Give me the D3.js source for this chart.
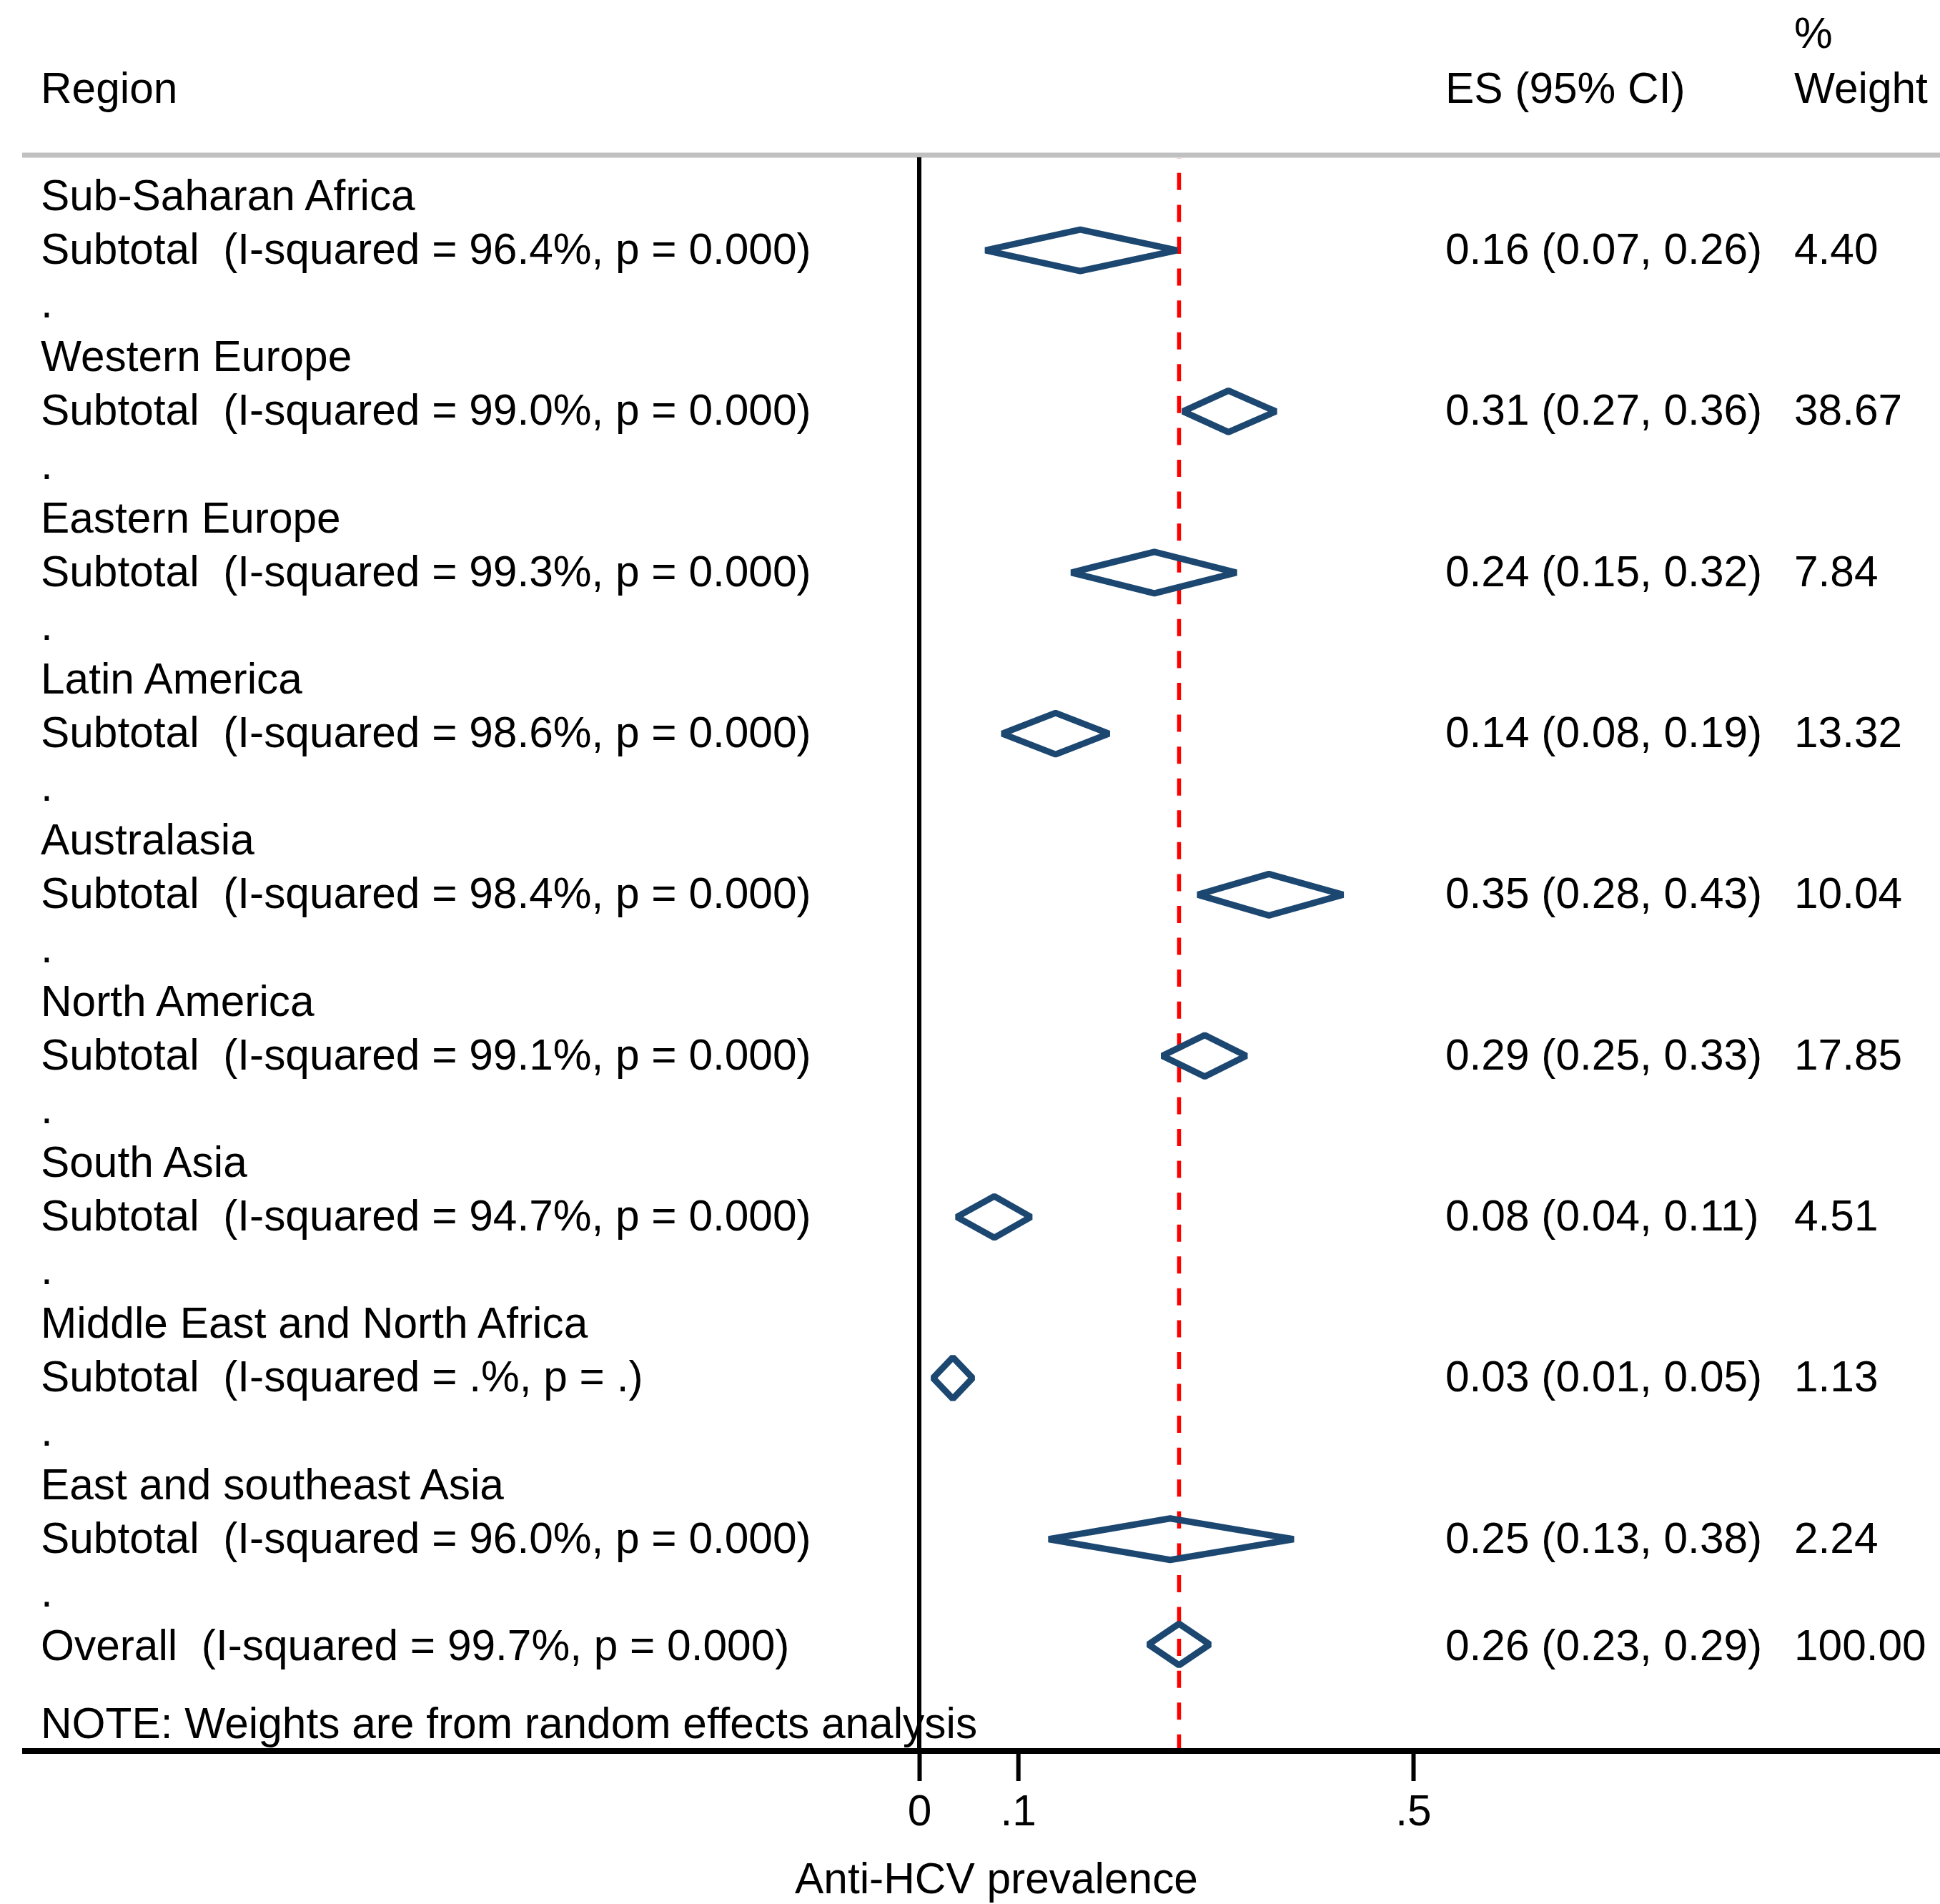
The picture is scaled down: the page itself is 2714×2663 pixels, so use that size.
<!DOCTYPE html>
<html lang="en">
<head>
<meta charset="utf-8">
<title>Anti-HCV prevalence forest plot</title>
<script src="https://cdn.jsdelivr.net/npm/d3@7"></script>
<style>
  html, body { margin: 0; padding: 0; background: #fff; }
  svg text { font-family: "Liberation Sans", Arial, sans-serif; font-size: 60.4px; fill: #000; }
</style>
</head>
<body>
<script>
// data (diamond positions estimated, labels printed to 2 dp)
let regions = ["Sub-Saharan Africa", "Western Europe", "Eastern Europe", "Latin America",
               "Australasia", "North America", "South Asia", "Middle East and North Africa",
               "East and southeast Asia"];
let iSquared = ["96.4%", "99.0%", "99.3%", "98.6%", "98.4%", "99.1%", "94.7%", ".%", "96.0%"];
let pValues  = ["0.000", "0.000", "0.000", "0.000", "0.000", "0.000", "0.000", ".", "0.000"];
let es    = [0.163, 0.313, 0.238, 0.138, 0.354, 0.289, 0.076, 0.034, 0.254];
let lower = [0.067, 0.267, 0.154, 0.084, 0.282, 0.246, 0.038, 0.014, 0.131];
let upper = [0.261, 0.361, 0.321, 0.192, 0.429, 0.331, 0.113, 0.054, 0.379];
let weights = ["4.40", "38.67", "7.84", "13.32", "10.04", "17.85", "4.51", "1.13", "2.24"];

let overall = {es: 0.263, lower: 0.232, upper: 0.294, isq: "99.7%", p: "0.000", weight: "100.00"};

let tickValues = [0, 0.1, 0.5];
let tickLabels = ["0", ".1", ".5"];

let w = 2714, h = 2663;
let textX = 57, esX = 2022, wtX = 2510;
let topY = 217, axisY = 2449;
let navy = "#1c4770";

let svg = d3.select("body").append("svg")
    .attr("width", w)
    .attr("height", h);

let x = d3.scaleLinear().domain([0, 0.5]).range([1286, 1977]);
// text baseline for each line of the table (3 lines per region, then overall)
let rowY = d3.scaleLinear().domain([0, 27]).range([294, 2322]);

// header
svg.append("text").attr("x", textX).attr("y", 144).text("Region");
svg.append("text").attr("x", esX).attr("y", 144).text("ES (95% CI)");
svg.append("text").attr("x", wtX).attr("y", 67).text("%");
svg.append("text").attr("x", wtX).attr("y", 144).text("Weight");

// grey rule under header
svg.append("line")
    .attr("x1", 31).attr("x2", w)
    .attr("y1", topY).attr("y2", topY)
    .attr("stroke", "#c0c0c0")
    .attr("stroke-width", 7);

// null line at 0
svg.append("line")
    .attr("x1", x(0)).attr("x2", x(0))
    .attr("y1", topY + 3).attr("y2", axisY)
    .attr("stroke", "#000")
    .attr("stroke-width", 6);

// overall effect line
svg.append("line")
    .attr("x1", x(overall.es)).attr("x2", x(overall.es))
    .attr("y1", topY + 4).attr("y2", axisY - 4)
    .attr("stroke", "#ff0000")
    .attr("stroke-width", 5.5)
    .attr("stroke-dasharray", "24,20.57")
    .attr("stroke-dashoffset", 23.7);

let rows = svg.append("g");

regions.forEach((r, i) => {
    let nameY = rowY(3 * i), subY = rowY(3 * i + 1), dotY = rowY(3 * i + 2);
    rows.append("text").attr("x", textX).attr("y", nameY).text(r);
    rows.append("text").attr("x", textX).attr("y", subY)
        .attr("xml:space", "preserve")
        .text("Subtotal  (I-squared = " + iSquared[i] + ", p = " + pValues[i] + ")");
    rows.append("text").attr("x", textX).attr("y", dotY).text(".");
    rows.append("text").attr("x", esX).attr("y", subY)
        .text(es[i].toFixed(2) + " (" + lower[i].toFixed(2) + ", " + upper[i].toFixed(2) + ")");
    rows.append("text").attr("x", wtX).attr("y", subY).text(weights[i]);
});

rows.append("text").attr("x", textX).attr("y", rowY(27))
    .attr("xml:space", "preserve")
    .text("Overall  (I-squared = " + overall.isq + ", p = " + overall.p + ")");
rows.append("text").attr("x", esX).attr("y", rowY(27))
    .text(overall.es.toFixed(2) + " (" + overall.lower.toFixed(2) + ", " + overall.upper.toFixed(2) + ")");
rows.append("text").attr("x", wtX).attr("y", rowY(27)).text(overall.weight);

svg.append("text").attr("x", textX).attr("y", 2431)
    .text("NOTE: Weights are from random effects analysis");

// diamonds
let diamonds = es.map((d, i) => ({es: d, lo: lower[i], hi: upper[i], y: rowY(3 * i + 1) - 19}));
diamonds.push({es: overall.es, lo: overall.lower, hi: overall.upper, y: rowY(27) - 22});

let half = 29;
svg.append("g").selectAll("path")
    .data(diamonds)
    .enter()
    .append("path")
    .attr("d", d => "M" + x(d.lo) + "," + d.y +
                    "L" + x(d.es) + "," + (d.y - half) +
                    "L" + x(d.hi) + "," + d.y +
                    "L" + x(d.es) + "," + (d.y + half) + "Z")
    .attr("fill", "none")
    .attr("stroke", navy)
    .attr("stroke-width", 9)
    .attr("stroke-linejoin", "bevel");

// x axis
let xAxis = d3.axisBottom(x)
    .tickValues(tickValues)
    .tickFormat((d, i) => tickLabels[i])
    .tickSize(42)
    .tickSizeOuter(0);

let ax = svg.append("g")
    .attr("transform", "translate(0," + axisY + ")")
    .call(xAxis);
ax.select(".domain").remove();
ax.selectAll(".tick line").attr("stroke", "#000").attr("stroke-width", 6);
ax.selectAll(".tick text")
    .attr("y", 104)
    .attr("dy", null)
    .attr("font-size", 60.4)
    .attr("font-family", "Liberation Sans, Arial, sans-serif")
    .attr("fill", "#000");

svg.append("line")
    .attr("x1", 31).attr("x2", w)
    .attr("y1", axisY).attr("y2", axisY)
    .attr("stroke", "#000")
    .attr("stroke-width", 8);

svg.append("text")
    .attr("x", 1394).attr("y", 2648)
    .attr("text-anchor", "middle")
    .text("Anti-HCV prevalence");
</script>
</body>
</html>
